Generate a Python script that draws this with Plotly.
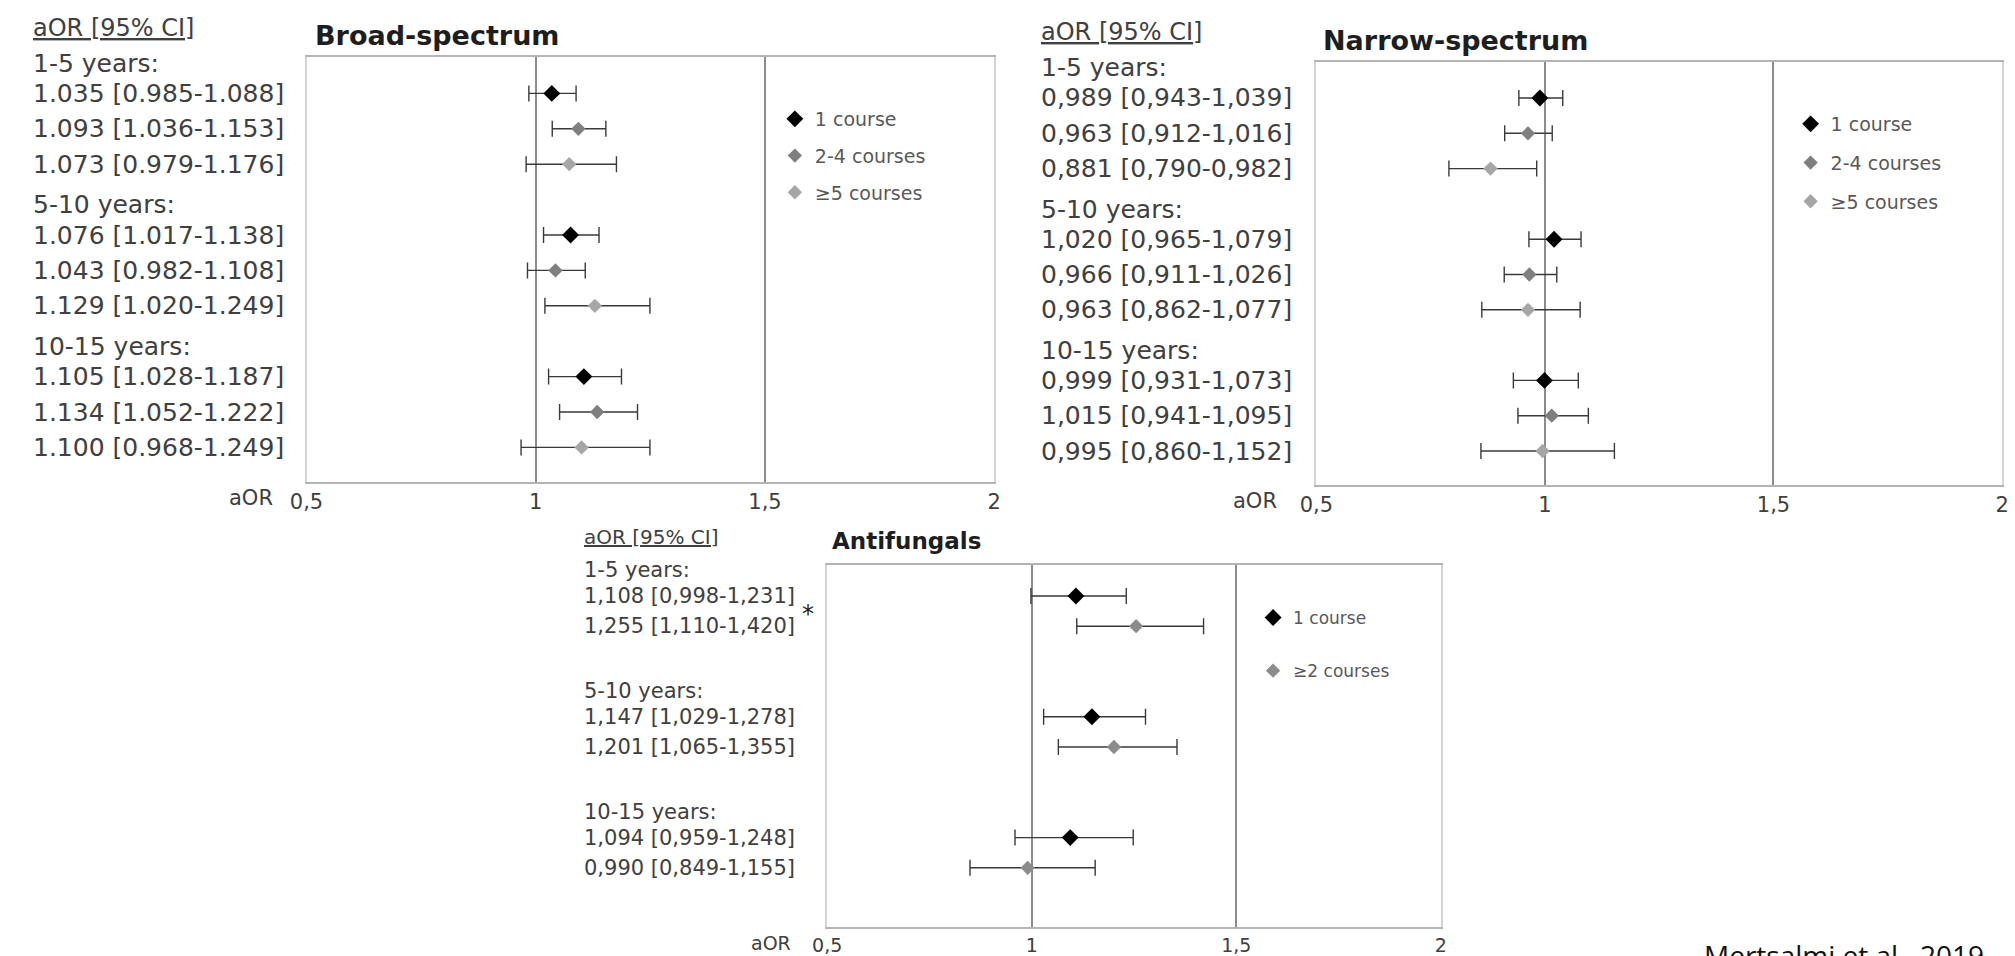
import plotly.graph_objects as go

W, H = 2015, 956

age_groups = ["1-5 years:", "5-10 years:", "10-15 years:"]

# Broad-spectrum antibiotics, values per age group (1-5, 5-10, 10-15)
broad_courses = ["1 course", "2-4 courses", "≥5 courses"]
broad_aor = [[1.035, 1.076, 1.105], [1.093, 1.043, 1.134], [1.073, 1.129, 1.100]]
broad_lo = [[0.985, 1.017, 1.028], [1.036, 0.982, 1.052], [0.979, 1.020, 0.968]]
broad_hi = [[1.088, 1.138, 1.187], [1.153, 1.108, 1.222], [1.176, 1.249, 1.249]]

# Narrow-spectrum antibiotics
narrow_courses = ["1 course", "2-4 courses", "≥5 courses"]
narrow_aor = [[0.989, 1.020, 0.999], [0.963, 0.966, 1.015], [0.881, 0.963, 0.995]]
narrow_lo = [[0.943, 0.965, 0.931], [0.912, 0.911, 0.941], [0.790, 0.862, 0.860]]
narrow_hi = [[1.039, 1.079, 1.073], [1.016, 1.026, 1.095], [0.982, 1.077, 1.152]]

# Antifungals
fungal_courses = ["1 course", "≥2 courses"]
fungal_aor = [[1.108, 1.147, 1.094], [1.255, 1.201, 0.990]]
fungal_lo = [[0.998, 1.029, 0.959], [1.110, 1.065, 0.849]]
fungal_hi = [[1.231, 1.278, 1.248], [1.420, 1.355, 1.155]]

x_tickvals = [0.5, 1, 1.5, 2]
x_ticktext = ["0,5", "1", "1,5", "2"]

FONT = "DejaVu Sans"
TXT = "#404040"

panels = [
    dict(n="", title="Broad-spectrum", courses=broad_courses, aor=broad_aor, lo=broad_lo, hi=broad_hi,
         sep=".", colors=["#000000", "#7f7f7f", "#a6a6a6"], sizes=[13, 11, 11],
         xpx=(293, 989), ypx=(57, 482), row1=93.4, step=35.4,
         text_x=14, aor_x=261, head_y=28, title_x=300, title_y=35, fs=25, title_fs=27, tick_fs=21,
         legend="legend", leg_x=767, leg_y=100, leg_fs=19, leg_gap=9),
    dict(n="2", title="Narrow-spectrum", courses=narrow_courses, aor=narrow_aor, lo=narrow_lo, hi=narrow_hi,
         sep=",", colors=["#000000", "#7f7f7f", "#a6a6a6"], sizes=[13, 11, 11],
         xpx=(1315, 2009), ypx=(62, 485), row1=98, step=35.3,
         text_x=1034, aor_x=1277, head_y=32, title_x=1320, title_y=41, fs=25, title_fs=27, tick_fs=21,
         legend="legend2", leg_x=1795, leg_y=105, leg_fs=19, leg_gap=11),
    dict(n="3", title="Antifungals", courses=fungal_courses, aor=fungal_aor, lo=fungal_lo, hi=fungal_hi,
         sep=",", colors=["#000000", "#8c8c8c"], sizes=[13, 11],
         xpx=(820, 1441), ypx=(565, 927), row1=596, step=30.2,
         text_x=572, aor_x=785, head_y=537, title_x=823, title_y=541, fs=21, title_fs=23, tick_fs=19,
         legend="legend3", leg_x=1251, leg_y=600, leg_fs=17, leg_gap=28),
]


def fmt(v, sep):
    return f"{v:.3f}".replace(".", sep)


fig = go.Figure()
annotations = []
layout = {}

for p in panels:
    n = p["n"]
    x0, x1 = p["xpx"]
    yt, yb = p["ypx"]
    r_top = 1 + (yt - p["row1"]) / p["step"]
    r_bot = 1 + (yb - p["row1"]) / p["step"]
    gsize = 4  # label row + course rows (+ blank row for antifungals)

    for k, course in enumerate(p["courses"]):
        rows = [g * gsize + 1 + k for g in range(len(age_groups))]
        fig.add_trace(go.Scatter(
            x=p["aor"][k], y=rows, mode="markers", name=course,
            xaxis="x" + n, yaxis="y" + n, legend=p["legend"], legendgroup=p["legend"] + str(k),
            marker=dict(symbol="diamond", size=p["sizes"][k], color=p["colors"][k]),
            error_x=dict(type="data", symmetric=False,
                         array=[h - a for h, a in zip(p["hi"][k], p["aor"][k])],
                         arrayminus=[a - l for a, l in zip(p["aor"][k], p["lo"][k])],
                         color="#3a3a3a", thickness=1.4, width=8),
            cliponaxis=False,
        ))
        # left-hand text column
        for g, r in enumerate(rows):
            txt = f"{fmt(p['aor'][k][g], p['sep'])} [{fmt(p['lo'][k][g], p['sep'])}-{fmt(p['hi'][k][g], p['sep'])}]"
            annotations.append(dict(text=txt, xref="paper", yref="y" + n, x=p["text_x"] / W, y=r,
                                    xanchor="left", yanchor="middle", showarrow=False,
                                    font=dict(family=FONT, size=p["fs"], color=TXT)))
            if n == "3" and g == 0 and k == 1:
                # significance mark
                annotations.append(dict(text="*", xref="paper", yref="y" + n, x=792 / W, y=r - 0.4,
                                        xanchor="left", yanchor="middle", showarrow=False,
                                        font=dict(family=FONT, size=p["fs"] + 3, color="#222")))

    for g, lab in enumerate(age_groups):
        annotations.append(dict(text=lab, xref="paper", yref="y" + n, x=p["text_x"] / W, y=g * gsize + 0.15,
                                xanchor="left", yanchor="middle", showarrow=False,
                                font=dict(family=FONT, size=p["fs"], color=TXT)))
    annotations.append(dict(text="<u>aOR [95% CI]</u>", xref="paper", yref="paper", x=p["text_x"] / W,
                            y=1 - p["head_y"] / H, xanchor="left", yanchor="middle", showarrow=False,
                            font=dict(family=FONT, size=p["fs"] - 1, color=TXT)))
    annotations.append(dict(text="aOR", xref="paper", yref="paper", x=p["aor_x"] / W, y=1 - (yb + 16) / H,
                            xanchor="right", yanchor="middle", showarrow=False,
                            font=dict(family=FONT, size=p["tick_fs"], color=TXT)))
    annotations.append(dict(text="<b>" + p["title"] + "</b>", xref="paper", yref="paper",
                            x=p["title_x"] / W, y=1 - p["title_y"] / H, xanchor="left", yanchor="middle",
                            showarrow=False, font=dict(family=FONT, size=p["title_fs"], color="#1e1e1e")))

    layout["xaxis" + n] = dict(domain=[x0 / W, x1 / W], range=[0.5, 2], anchor="y" + n,
                               tickvals=x_tickvals, ticktext=x_ticktext, ticks="", ticklen=0,
                               tickfont=dict(family=FONT, size=p["tick_fs"], color=TXT),
                               showgrid=True, gridcolor="#8c8c8c", gridwidth=1.5,
                               showline=True, linecolor="#b4b4b4", linewidth=2, mirror=True,
                               zeroline=False, fixedrange=True)
    layout["yaxis" + n] = dict(domain=[1 - yb / H, 1 - yt / H], range=[r_bot, r_top], anchor="x" + n,
                               showticklabels=False, showgrid=False, zeroline=False, ticks="",
                               showline=True, linecolor="#d4d4d4", linewidth=2, mirror=True,
                               fixedrange=True)
    layout[p["legend"]] = dict(x=p["leg_x"] / W, y=1 - p["leg_y"] / H, xanchor="left", yanchor="top",
                               bgcolor="rgba(0,0,0,0)", traceorder="grouped", tracegroupgap=p["leg_gap"],
                               itemwidth=30, font=dict(family=FONT, size=p["leg_fs"], color="#595959"))

annotations.append(dict(text="Mertsalmi et al., 2019", xref="paper", yref="paper", x=1993 / W, y=1 - 934 / H,
                        xanchor="right", yanchor="top", showarrow=False,
                        font=dict(family="Open Sans", size=28, color="#111111")))

fig.update_layout(
    width=W, height=H,
    margin=dict(l=0, r=0, t=0, b=0),
    paper_bgcolor="white", plot_bgcolor="white",
    showlegend=True,
    annotations=annotations,
    **layout,
)

fig.write_html("out.html", config={"displayModeBar": False},
               post_script="document.body.style.margin='0px';document.body.style.overflow='hidden';")
